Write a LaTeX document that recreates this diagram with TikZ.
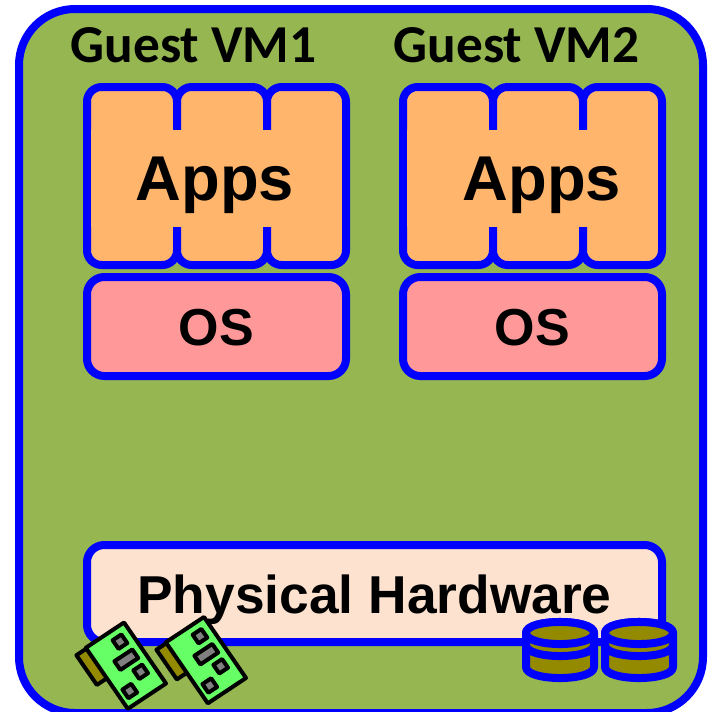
\documentclass[tikz,border=0pt]{standalone}
\usepackage{fontspec}
\setmainfont{Liberation Sans}
\newfontfamily\calibrilike{Carlito}
\definecolor{panelgreen}{HTML}{95B650}
\definecolor{apporange}{HTML}{FFB56B}
\definecolor{ospink}{HTML}{FF9999}
\definecolor{hwpeach}{HTML}{FDE2CF}
\definecolor{cardgreen}{HTML}{66FF66}
\definecolor{olive}{HTML}{948A00}
\definecolor{chipgray}{HTML}{808080}
\tikzset{
  blueline/.style={draw=blue,line width=6pt},
  panel/.style={blueline,fill=panelgreen,rounded corners=42pt},
  appcell/.style={blueline,fill=apporange,rounded corners=11pt},
  osbox/.style={blueline,fill=ospink,rounded corners=13pt},
  hwbox/.style={blueline,fill=hwpeach,rounded corners=13pt},
  guestlabel/.style={anchor=base,inner sep=0pt,font=\calibrilike\bfseries\fontsize{40}{40}\selectfont},
  appslabel/.style={anchor=base,inner sep=0pt,font=\bfseries\fontsize{47.5}{47.5}\selectfont},
  oslabel/.style={anchor=base,inner sep=0pt,font=\bfseries\fontsize{39}{39}\selectfont},
  hwlabel/.style={anchor=base,inner sep=0pt,font=\bfseries\fontsize{40}{40}\selectfont},
  cardbody/.style={draw=black,line width=3pt,line join=round,fill=cardgreen},
  cardtab/.style={draw=black,line width=3pt,line join=round,fill=olive},
  chip/.style={draw=black,line width=3pt,line join=round,fill=chipgray},
  disk/.style={draw=blue,line width=6pt,fill=olive,line join=round},
}
\newcommand{\vmstack}[1]{%
  \begin{scope}[xshift=#1*0.75pt]
    \path[appcell] (87,87) rectangle (177,265);
    \path[appcell] (177,87) rectangle (267,265);
    \path[appcell] (267,87) rectangle (346,265);
    \fill[apporange] (91,130) rectangle (342,227);
    \path[osbox] (87,277) rectangle (346,376);
  \end{scope}}
\newcommand{\chipat}[4]{\path[chip] (#1,#2) -- (#3,#2) -- (#3,#4) -- (#1,#4) -- cycle;}
\newcommand{\netcard}[2]{%
  \begin{scope}[shift={(#1,#2)},x={(0.4257pt,-0.6182pt)},y={(-0.6225pt,-0.4125pt)}]
    \path[cardtab] (1,40) -- (1,58) -- (37,58) -- (37,40) -- cycle;
    \path[cardbody] (0,0) -- (74,0) -- (74,46) -- (0,46) -- cycle;
    \chipat{8.5}{9}{19}{19.5}
    \chipat{27}{8.5}{37.5}{30}
    \chipat{45}{9}{55.5}{19.5}
    \chipat{55}{29}{65.5}{39.5}
  \end{scope}}
\newcommand{\diskstack}[1]{%
  \begin{scope}[xshift=#1*0.75pt]
    \path[disk] (526,633) -- (526,667) .. controls (526,681.7) and (594,681.7) .. (594,667) -- (594,633)
       .. controls (594,618.3) and (526,618.3) .. (526,633) -- cycle;
    \path[disk] (526,633) .. controls (526,647.7) and (594,647.7) .. (594,633)
       .. controls (594,618.3) and (526,618.3) .. (526,633) -- cycle;
    \draw[disk,fill=none] (526,645) .. controls (526,659.7) and (594,659.7) .. (594,645);
  \end{scope}}
\begin{document}
\begin{tikzpicture}[x=0.75pt,y=-0.75pt]
  \useasboundingbox (0,0) rectangle (714,711);
  \clip (0,0) rectangle (714,711);
  \fill[white] (0,0) rectangle (714,711);
  \path[panel] (19,9) rectangle (703,713);
  \node[guestlabel] (guest1) at (193.5,62) {Guest VM1};
  \node[guestlabel] (guest2) at (516.5,62) {Guest VM2};
  \vmstack{0}
  \vmstack{316}
  \node[appslabel] (apps1) at (215,200) {Apps};
  \node[appslabel] (apps2) at (542,200) {Apps};
  \node[oslabel] (os1) at (216.5,345) {OS};
  \node[oslabel] (os2) at (532.5,345) {OS};
  \path[hwbox] (87,545) rectangle (662,642);
  \node[hwlabel] (hw) at (374.5,613) {Physical Hardware};
  \netcard{124}{622.5}
  \netcard{204}{617}
  \diskstack{0}
  \diskstack{79}
\end{tikzpicture}
\end{document}
